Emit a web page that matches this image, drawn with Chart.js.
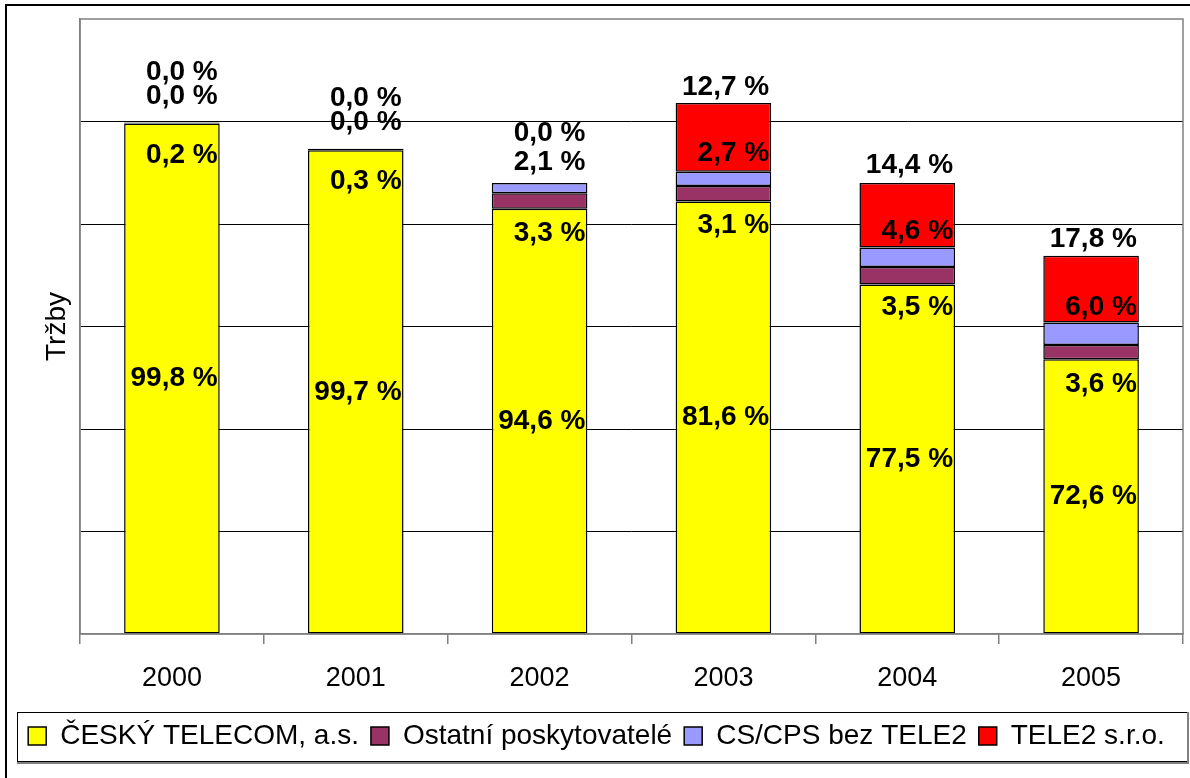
<!DOCTYPE html>
<html>
<head>
<meta charset="utf-8">
<script src="https://cdn.jsdelivr.net/npm/chart.js@4.4.0/dist/chart.umd.min.js"></script>
<style>
  html, body { margin: 0; padding: 0; background: #fff; }
  #wrap { width: 1190px; height: 778px; }
</style>
</head>
<body>
<div id="wrap"><canvas id="chart" width="1190" height="778"></canvas></div>
<script>
// values (revenue, arbitrary units) and the printed shares
const years = ['2000', '2001', '2002', '2003', '2004', '2005'];
const ceskyTelecom = [49.8, 47.2, 41.5, 42.2, 34.1, 26.8];
const ostatni = [0.1, 0.15, 1.5, 1.5, 1.7, 1.4];
const csCps = [0, 0, 1.0, 1.4, 1.9, 2.2];
const tele2 = [0, 0, 0, 6.7, 6.3, 6.5];

const ctShare = [99.8, 99.7, 94.6, 81.6, 77.5, 72.6];
const ostatniShare = [0.2, 0.3, 3.3, 3.1, 3.5, 3.6];
const csCpsShare = [0.0, 0.0, 2.1, 2.7, 4.6, 6.0];
const tele2Share = [0.0, 0.0, 0.0, 12.7, 14.4, 17.8];

const FONT = "'Liberation Sans', Arial, sans-serif";
const shares = [ctShare, ostatniShare, csCpsShare, tele2Share];
// vertical shift of each series' label from its segment centre
const labelShift = [0, 32, -26, -50];

const fmt = v => v.toFixed(1).replace('.', ',') + ' %';

const frame = {
  id: 'frame',
  beforeDraw(chart) {
    const { ctx } = chart;
    ctx.save();
    ctx.fillStyle = '#fff';
    ctx.fillRect(0, 0, chart.width, chart.height);
    ctx.strokeStyle = '#000';
    ctx.lineWidth = 2;
    ctx.strokeRect(6, 5, chart.width + 20, chart.height + 20);
    ctx.restore();
  },
  afterDraw(chart) {
    const { ctx, chartArea: a, legend } = chart;
    ctx.save();
    ctx.strokeStyle = '#808080';
    ctx.lineWidth = 1.5;
    ctx.strokeRect(a.left, a.top, a.right - a.left, a.bottom - a.top);
    // legend box
    const boxes = legend.legendHitBoxes;
    if (boxes && boxes.length) {
      const first = boxes[0];
      const l = 17, r = 1187;
      const t = first.top + first.height / 2 - 24;
      const b = first.top + first.height / 2 + 25;
      ctx.strokeStyle = '#000';
      ctx.lineWidth = 1;
      ctx.strokeRect(l + 0.5, t + 0.5, r - l, b - t);
      ctx.strokeStyle = '#808080';
      ctx.lineWidth = 2;
      ctx.beginPath();
      ctx.moveTo(l, b + 2);
      ctx.lineTo(r + 1, b + 2);
      ctx.lineTo(r + 1, t);
      ctx.stroke();
    }
    ctx.restore();
  }
};

const shareLabels = {
  id: 'shareLabels',
  afterDatasetsDraw(chart) {
    const { ctx } = chart;
    ctx.save();
    ctx.font = `bold 28px ${FONT}`;
    ctx.fillStyle = '#000';
    ctx.textAlign = 'right';
    ctx.textBaseline = 'middle';
    chart.data.datasets.forEach((ds, i) => {
      chart.getDatasetMeta(i).data.forEach((bar, j) => {
        const p = bar.getProps(['x', 'y', 'base', 'width'], true);
        const y = (p.y + p.base) / 2 + labelShift[i];
        ctx.fillText(fmt(shares[i][j]), p.x + p.width / 2 - 2, y);
      });
    });
    ctx.restore();
  }
};

const dataset = (label, data, color) => ({
  label,
  data,
  backgroundColor: color,
  borderColor: '#000',
  borderWidth: 1.5,
  borderSkipped: false,
  barPercentage: 0.52,
  categoryPercentage: 1
});

new Chart(document.getElementById('chart'), {
  type: 'bar',
  data: {
    labels: years,
    datasets: [
      dataset('ČESKÝ TELECOM, a.s.', ceskyTelecom, '#ffff00'),
      dataset('Ostatní poskytovatelé', ostatni, '#993366'),
      dataset('CS/CPS bez TELE2', csCps, '#9999ff'),
      dataset('TELE2 s.r.o.', tele2, '#ff0000')
    ]
  },
  options: {
    responsive: false,
    animation: false,
    layout: { padding: { left: 10, right: 7, top: 19, bottom: 18 } },
    plugins: {
      tooltip: { enabled: false },
      legend: {
        position: 'bottom',
        labels: {
          color: '#000',
          font: { family: FONT, size: 28 },
          boxWidth: 18,
          boxHeight: 18,
          padding: 12
        }
      }
    },
    scales: {
      x: {
        stacked: true,
        afterFit(scale) { scale.height = 76; },
        grid: {
          drawOnChartArea: false,
          drawTicks: true,
          tickLength: 10,
          color: '#808080',
          lineWidth: 1.5
        },
        border: { color: '#808080', width: 1.5 },
        ticks: {
          color: '#000',
          font: { family: FONT, size: 27 },
          padding: 18
        }
      },
      y: {
        stacked: true,
        min: 0,
        max: 60,
        afterFit(scale) { scale.width = 70; },
        ticks: { display: false, stepSize: 10 },
        grid: {
          drawTicks: false,
          color: ctx => (ctx.tick.value === 0 || ctx.tick.value === 60) ? 'rgba(0,0,0,0)' : '#000',
          lineWidth: 1
        },
        border: { color: '#808080', width: 1.5 },
        title: {
          display: true,
          text: 'Tržby',
          color: '#000',
          font: { family: FONT, size: 28 },
          padding: { top: 30, bottom: 0 }
        }
      }
    }
  },
  plugins: [frame, shareLabels]
});
</script>
</body>
</html>
